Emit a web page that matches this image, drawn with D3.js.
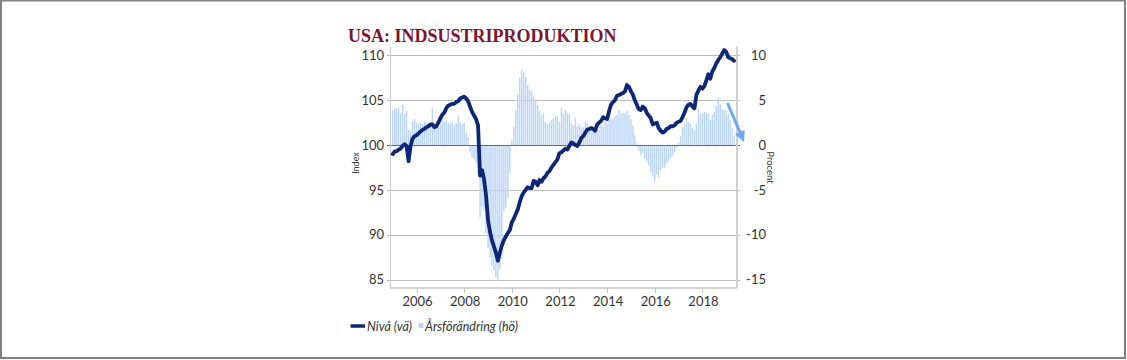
<!DOCTYPE html>
<html>
<head>
<meta charset="utf-8">
<script src="https://cdn.jsdelivr.net/npm/d3@7"></script>
<style>
  html, body { margin: 0; padding: 0; background: #fff; }
  svg { display: block; }
</style>
</head>
<body>
<svg id="chart" width="1127" height="360"></svg>
<script>
// ---------------- data ----------------
const startYear = 2005;           // first month: Jan 2005
const title = "USA: INDSUSTRIPRODUKTION";
const leftTitle = "Index";
const rightTitle = "Procent";
const seriesNames = ["Nivå (vä)", "Årsförändring (hö)"];
const xTickYears = [2006, 2008, 2010, 2012, 2014, 2016, 2018];
const leftTicks = [85, 90, 95, 100, 105, 110];
const rightTicks = [-15, -10, -5, 0, 5, 10];

// Index level (left axis), monthly Jan 2005 – May 2019
const level = [
  99.0, 99.3, 99.3, 99.5, 99.6, 99.9, 100.1, 99.9, 98.2, 99.9, 100.7, 101.0,
  101.1, 101.3, 101.5, 101.7, 101.8, 102.0, 102.1, 102.3, 102.3, 102.0, 102.1, 102.5,
  103.0, 103.4, 103.6, 104.1, 104.4, 104.5, 104.6, 104.6, 104.8, 104.9, 105.2, 105.3,
  105.4, 105.2, 104.9, 104.3, 103.7, 103.3, 102.9, 102.2, 96.6, 97.2, 96.2, 94.4,
  91.6, 90.3, 89.4, 88.7, 88.0, 87.1, 88.0, 88.8, 89.4, 89.8, 90.2, 90.5,
  91.4, 91.8, 92.3, 92.8, 93.6, 94.3, 94.7, 95.0, 95.3, 95.2, 95.2, 96.0,
  95.9, 95.5, 96.1, 95.9, 96.3, 96.5, 96.9, 97.1, 97.5, 97.8, 98.1, 98.4,
  99.1, 99.2, 99.4, 99.6, 99.5, 99.9, 100.3, 100.2, 100.0, 99.9, 100.3, 100.8,
  101.0, 101.4, 101.7, 101.8, 101.9, 101.8, 101.6, 102.3, 102.5, 102.7, 103.1, 103.0,
  102.9, 103.8, 104.5, 104.8, 105.0, 105.5, 105.6, 105.7, 105.8, 106.0, 106.7, 106.5,
  106.0, 105.6, 105.0, 104.5, 104.0, 103.9, 104.3, 104.1, 103.6, 103.3, 103.0, 102.3,
  102.4, 102.5, 101.9, 101.6, 101.4, 101.5, 101.8, 101.9, 102.1, 102.1, 102.2, 102.5,
  102.6, 102.7, 103.1, 103.6, 104.2, 104.5, 104.6, 104.3, 104.1, 105.6, 106.1, 106.5,
  106.3, 106.6, 107.2, 107.9, 107.4, 108.2, 108.6, 109.1, 109.5, 109.8, 110.2, 110.6,
  110.4, 109.8, 109.7, 109.6, 109.4
];

// Year-on-year change in % (right axis), monthly Jan 2005 – May 2019
const yoy = [
  3.9, 4.1, 4.0, 4.2, 3.6, 4.5, 3.5, 3.8, 1.7, 1.6, 2.7, 2.9,
  2.6, 2.4, 2.5, 2.3, 2.7, 2.5, 2.2, 2.4, 4.1, 2.2, 2.3, 2.0,
  2.3, 2.9, 2.6, 2.8, 2.5, 2.4, 2.6, 2.2, 2.5, 3.3, 2.6, 2.4,
  2.5, 1.4, 0.9, -0.8, -1.4, -1.6, -2.0, -3.3, -8.1, -6.9, -7.3, -9.8,
  -11.5, -12.6, -13.5, -14.0, -14.8, -15.2, -13.8, -12.7, -7.4, -7.0, -5.9, -3.1,
  0.5, 2.0, 3.9, 5.6, 7.5, 8.4, 8.1, 7.6, 6.7, 6.2, 6.0, 5.4,
  4.9, 4.4, 3.8, 3.3, 3.5, 2.6, 2.3, 2.5, 2.8, 3.0, 3.3, 3.2,
  2.6, 4.2, 3.5, 3.9, 3.6, 3.4, 2.4, 2.2, 3.0, 2.1, 2.3, 2.0,
  2.0, 2.6, 2.5, 1.9, 1.8, 1.8, 1.5, 1.9, 1.7, 2.3, 2.1, 2.7,
  2.4, 2.8, 3.0, 2.9, 3.2, 3.4, 3.9, 3.5, 3.6, 3.5, 3.8, 3.4,
  2.9, 2.2, 1.1, 0.2, -0.6, -1.1, -0.9, -1.5, -1.8, -2.3, -3.0, -3.5,
  -4.1, -3.3, -3.6, -2.8, -2.5, -2.6, -2.0, -1.8, -1.4, -1.2, -0.8, -0.3,
  0.3, 1.0, 2.0, 2.4, 3.0, 2.6, 2.4, 1.9, 1.6, 2.4, 4.0, 3.5,
  3.5, 3.7, 3.6, 3.5, 2.8, 3.4, 3.7, 4.4, 5.3, 4.6, 4.0, 3.9,
  3.8, 3.4, 2.8, 1.9, 1.0
];

// annotation arrow (right-axis units): start and end
const arrowFrom = { date: new Date(2019, 0, 20), pct: 4.7 };
const arrowTo   = { date: new Date(2019, 8, 5),  pct: 0.8 };

// ---------------- chart ----------------
const months = level.map((_, i) => new Date(startYear, i, 1));

const svg = d3.select("#chart");
const W = 1127, H = 360;

// frame
svg.append("rect").attr("x", 1).attr("y", 0.5).attr("width", W - 3).attr("height", H - 2.5)
  .attr("fill", "#fff").attr("stroke", "#808080").attr("stroke-width", 2);

const plot = { left: 390, right: 737, top: 46.5, bottom: 288 };

const x = d3.scaleTime()
  .domain([new Date(2004, 10, 20), new Date(2019, 5, 15)])
  .range([plot.left, plot.right]);
const yL = d3.scaleLinear().domain([84, 111]).range([288.5, 46.5]);
const yR = d3.scaleLinear().domain([-16, 11]).range([288.5, 46.5]);

const font = "Lato, 'Open Sans', sans-serif";

// gridlines
svg.append("g").selectAll("line").data(leftTicks).join("line")
  .attr("x1", plot.left - 3).attr("x2", plot.right + 3)
  .attr("y1", d => Math.round(yL(d)) + 0.5).attr("y2", d => Math.round(yL(d)) + 0.5)
  .attr("stroke", d => d === 100 ? "#6a6a6a" : "#bdbdbd").attr("stroke-width", 1);

// bars
const bw = 1.45;
svg.append("g").selectAll("rect").data(yoy).join("rect")
  .attr("x", (d, i) => x(months[i]) - bw / 2)
  .attr("width", bw)
  .attr("y", d => yR(Math.max(0, d)))
  .attr("height", d => Math.abs(yR(d) - yR(0)))
  .attr("fill", "#bcd5f7");

// redraw the zero line on top of bars
svg.append("line")
  .attr("x1", plot.left).attr("x2", plot.right)
  .attr("y1", Math.round(yL(100)) + 0.5).attr("y2", Math.round(yL(100)) + 0.5)
  .attr("stroke", "#6a6a6a").attr("stroke-width", 1);

// axes lines
svg.append("line").attr("x1", plot.left + 0.5).attr("x2", plot.left + 0.5)
  .attr("y1", plot.top).attr("y2", plot.bottom).attr("stroke", "#c8c8c8");
svg.append("line").attr("x1", plot.right).attr("x2", plot.right)
  .attr("y1", plot.top).attr("y2", plot.bottom).attr("stroke", "#d0d0d0").attr("stroke-width", 2);
svg.append("line").attr("x1", plot.left).attr("x2", plot.right)
  .attr("y1", plot.bottom).attr("y2", plot.bottom).attr("stroke", "#c8c8c8").attr("stroke-width", 1.5);

// x ticks
const xt = xTickYears.map(yv => new Date(yv, 0, 1));
svg.append("g").selectAll("line").data(xt).join("line")
  .attr("x1", d => Math.round(x(d)) + 0.5).attr("x2", d => Math.round(x(d)) + 0.5)
  .attr("y1", plot.bottom).attr("y2", plot.bottom + 5)
  .attr("stroke", "#c8c8c8");
svg.append("g").selectAll("text").data(xt).join("text")
  .attr("x", d => x(d) + 1).attr("y", 306)
  .attr("text-anchor", "middle")
  .attr("font-family", font).attr("font-size", 13).attr("fill", "#333")
  .text(d => d.getFullYear());

// left tick labels
svg.append("g").selectAll("text").data(leftTicks).join("text")
  .attr("x", 384).attr("y", d => yL(d) + 4.6)
  .attr("text-anchor", "end")
  .attr("font-family", font).attr("font-size", 13).attr("fill", "#333")
  .text(d => d);

// right tick labels
svg.append("g").selectAll("text").data(rightTicks).join("text")
  .attr("x", 766).attr("y", d => yR(d) + 4.6)
  .attr("text-anchor", "end")
  .attr("font-family", font).attr("font-size", 13).attr("fill", "#333")
  .text(d => d);

// axis titles
svg.append("text")
  .attr("transform", `translate(359, ${yL(98)}) rotate(-90)`)
  .attr("text-anchor", "middle")
  .attr("font-family", font).attr("font-size", 9).attr("fill", "#333")
  .text(leftTitle);
svg.append("text")
  .attr("transform", `translate(767, ${yR(-2.5)}) rotate(90)`)
  .attr("text-anchor", "middle")
  .attr("font-family", font).attr("font-size", 9.5).attr("fill", "#333")
  .text(rightTitle);

// level line
const line = d3.line()
  .x((d, i) => x(months[i]))
  .y(d => yL(d));
svg.append("path").datum(level)
  .attr("d", line)
  .attr("fill", "none")
  .attr("stroke", "#0d2678")
  .attr("stroke-width", 3.8)
  .attr("stroke-linejoin", "round")
  .attr("stroke-linecap", "round");

// arrow annotation
const defs = svg.append("defs");
defs.append("marker").attr("id", "ah")
  .attr("viewBox", "0 0 10 10").attr("refX", 6).attr("refY", 5)
  .attr("markerWidth", 3.6).attr("markerHeight", 3.6).attr("orient", "auto")
  .append("path").attr("d", "M0,0 L10,5 L0,10 z").attr("fill", "#6ea8f2");
svg.append("line")
  .attr("x1", x(arrowFrom.date)).attr("y1", yR(arrowFrom.pct))
  .attr("x2", x(arrowTo.date)).attr("y2", yR(arrowTo.pct))
  .attr("stroke", "#6ea8f2").attr("stroke-width", 3)
  .attr("marker-end", "url(#ah)");

// title
svg.append("text")
  .attr("x", 348).attr("y", 42)
  .attr("font-family", "'Liberation Serif', 'Times New Roman', serif")
  .attr("font-weight", "bold").attr("font-size", 18)
  .attr("fill", "#7a1632")
  .text(title);

// legend
const lg = svg.append("g");
lg.append("line").attr("x1", 350.5).attr("x2", 365).attr("y1", 326).attr("y2", 326)
  .attr("stroke", "#0d2678").attr("stroke-width", 3.5);
lg.append("text").attr("x", 367).attr("y", 330.5)
  .attr("font-family", font).attr("font-style", "italic").attr("font-size", 12.5).attr("fill", "#333")
  .text(seriesNames[0]);
lg.append("rect").attr("x", 418.5).attr("y", 323).attr("width", 5).attr("height", 5)
  .attr("fill", "#bcd5f7");
lg.append("text").attr("x", 425).attr("y", 330.5)
  .attr("font-family", font).attr("font-style", "italic").attr("font-size", 12.5).attr("fill", "#333")
  .text(seriesNames[1]);
</script>
</body>
</html>
